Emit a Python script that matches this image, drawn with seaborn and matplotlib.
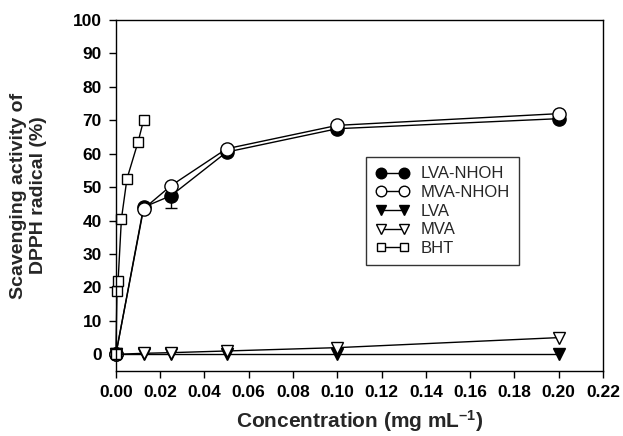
import matplotlib
matplotlib.use("Agg")
import matplotlib.pyplot as plt
import seaborn as sns
import pandas as pd

conc = [0, 0.0125, 0.025, 0.05, 0.1, 0.2]
lva_nhoh = [0, 44, 47.5, 60.5, 67.5, 70.5]
mva_nhoh = [0, 43.5, 50.5, 61.5, 68.5, 72]
lva = [0, 0, 0, 0, 0, 0]
mva = [0, 0.3, 0.5, 1.0, 2.0, 5.0]
bht_conc = [0, 0.0005, 0.001, 0.0025, 0.005, 0.01, 0.0125]
bht = [0, 19, 22, 40.5, 52.5, 63.5, 70]
err_x = [0.025]
err_y = [47.5]
err_low = [3.8]

sns.set_theme(style="ticks")
plt.rcParams['font.family'] = ['Liberation Sans', 'DejaVu Sans']
plt.rcParams['font.weight'] = 'bold'
plt.rcParams['mathtext.fontset'] = 'custom'
plt.rcParams['mathtext.rm'] = 'Liberation Sans:bold'
plt.rcParams['mathtext.bf'] = 'Liberation Sans:bold'
plt.rcParams['mathtext.default'] = 'bf'

fig = plt.figure(figsize=(6.23, 4.36), dpi=100)
ax = fig.add_axes([0.186, 0.149, 0.782, 0.805])

series = [
    ("LVA-NHOH", conc, lva_nhoh, "o", "black", 9.5),
    ("MVA-NHOH", conc, mva_nhoh, "o", "white", 9.5),
    ("LVA", conc, lva, "v", "black", 8.5),
    ("MVA", conc, mva, "v", "white", 8.5),
    ("BHT", bht_conc, bht, "s", "white", 6.5),
]

ax.errorbar(err_x, err_y, yerr=[err_low, [0]], fmt="none", ecolor="black",
            elinewidth=1, capsize=4, capthick=1, zorder=1)

for name, xs, ys, mk, fc, ms in series:
    df = pd.DataFrame({"x": xs, "y": ys})
    sns.lineplot(data=df, x="x", y="y", ax=ax, color="black", linewidth=1,
                 marker=mk, markersize=ms, markerfacecolor=fc,
                 markeredgecolor="black", markeredgewidth=1, label=name,
                 estimator=None, sort=False, clip_on=False)

ax.set_xlim(0, 0.22)
ax.set_ylim(-5, 100)
ax.set_xticks([i * 0.02 for i in range(12)])
ax.set_xticklabels([f"{i*0.02:.2f}" for i in range(12)])
ax.set_yticks(range(0, 101, 10))
ax.tick_params(direction="out", length=5, width=1, labelsize=12.5, colors="black", pad=5)
for lab in ax.get_xticklabels() + ax.get_yticklabels():
    lab.set_fontweight("bold")
for s in ax.spines.values():
    s.set_color("black")
    s.set_linewidth(1)

ax.set_xlabel("Concentration (mg mL$^{\u2013 1}$)", fontsize=15, fontweight="bold", labelpad=6)
ax.set_ylabel("Scavenging activity of\nDPPH radical (%)", fontsize=14, fontweight="bold", labelpad=19)

leg = ax.legend(numpoints=2, loc="upper left", bbox_to_anchor=(0.497, 0.633),
                frameon=True, fancybox=False, edgecolor="black", fontsize=12,
                handlelength=2.0, borderpad=0.55, labelspacing=0.22, markerscale=0.8,
                handletextpad=0.7)
leg.get_frame().set_linewidth(1)
for t in leg.get_texts():
    t.set_fontweight("normal")

fig.savefig("out.png", dpi=100)
